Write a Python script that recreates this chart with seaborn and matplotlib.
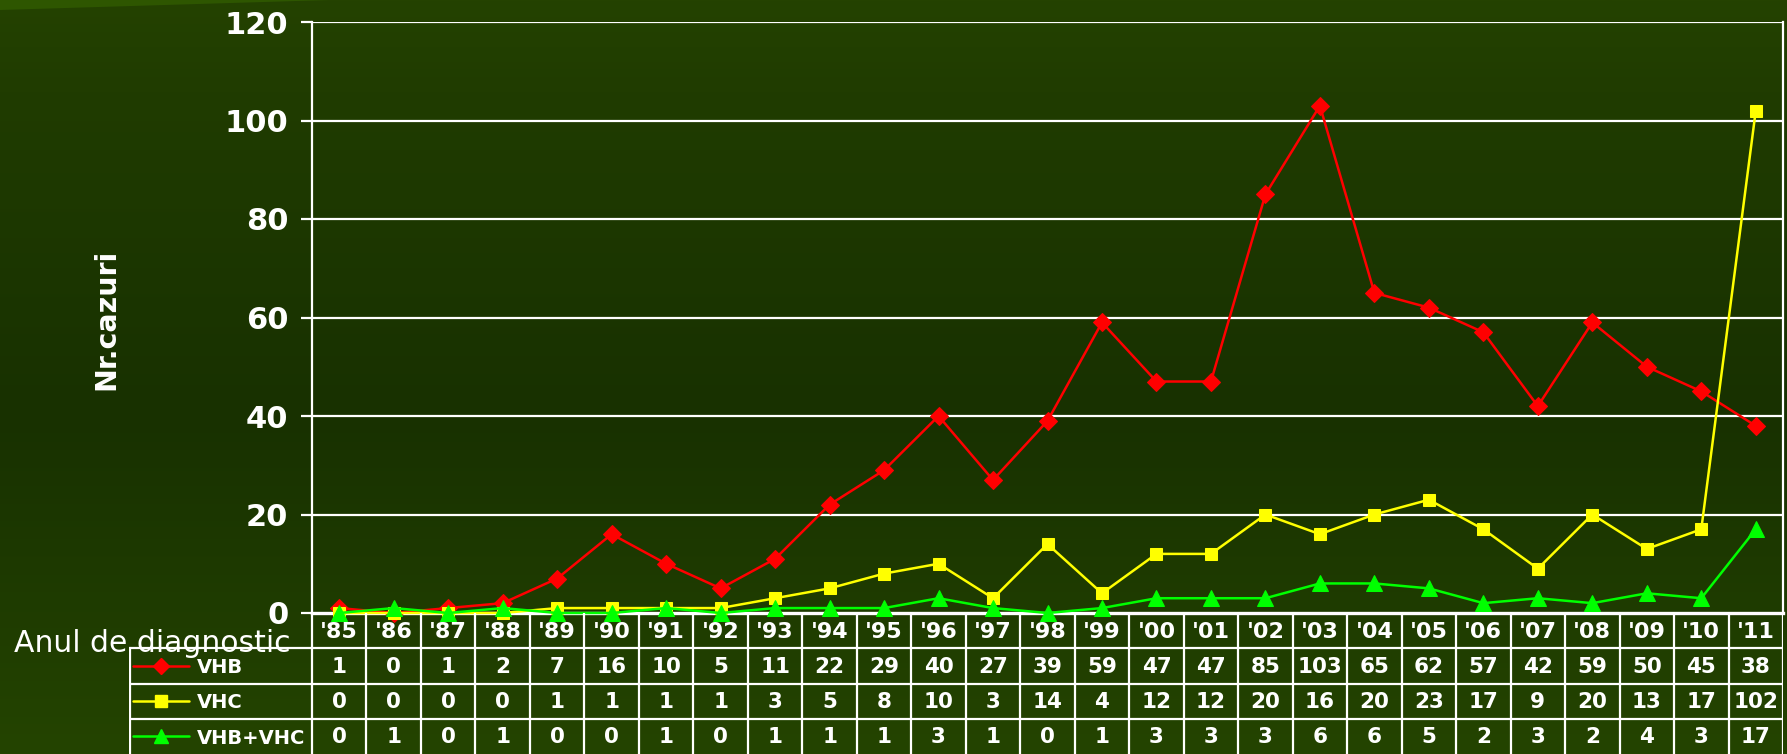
import numpy as np
import pandas as pd
import matplotlib
matplotlib.use("Agg")
import matplotlib.pyplot as plt
from matplotlib.colors import LinearSegmentedColormap
from matplotlib.lines import Line2D
from matplotlib.patches import Polygon
import seaborn as sns

# ---- data ----
years = ["'85", "'86", "'87", "'88", "'89", "'90", "'91", "'92", "'93", "'94",
         "'95", "'96", "'97", "'98", "'99", "'00", "'01", "'02", "'03", "'04",
         "'05", "'06", "'07", "'08", "'09", "'10", "'11"]
vhb = [1, 0, 1, 2, 7, 16, 10, 5, 11, 22, 29, 40, 27, 39, 59, 47, 47, 85, 103, 65,
       62, 57, 42, 59, 50, 45, 38]
vhc = [0, 0, 0, 0, 1, 1, 1, 1, 3, 5, 8, 10, 3, 14, 4, 12, 12, 20, 16, 20,
       23, 17, 9, 20, 13, 17, 102]
vhb_vhc = [0, 1, 0, 1, 0, 0, 1, 0, 1, 1, 1, 3, 1, 0, 1, 3, 3, 3, 6, 6,
           5, 2, 3, 2, 4, 3, 17]
series_names = ["VHB", "VHC", "VHB+VHC"]
series_values = [vhb, vhc, vhb_vhc]
yticks = [0, 20, 40, 60, 80, 100, 120]
ylabel = "Nr.cazuri"
xlabel = "Anul de diagnostic"

colors = {"VHB": "#ff0000", "VHC": "#ffff00", "VHB+VHC": "#00ff00"}
markers = {"VHB": "D", "VHC": "s", "VHB+VHC": "^"}
msizes = {"VHB": 9, "VHC": 9, "VHB+VHC": 11}

rows = []
for name, vals in zip(series_names, series_values):
    for i, (yr, v) in enumerate(zip(years, vals)):
        rows.append({"pos": i, "year": yr, "series": name, "value": v})
df = pd.DataFrame(rows)

sns.set_style("white")
plt.rcParams["font.family"] = ["DejaVu Sans"]

# ---- figure ----
W, H = 1787, 754
fig = plt.figure(figsize=(W / 100, H / 100), dpi=100)

# background gradient
bg = fig.add_axes([0, 0, 1, 1], zorder=-10)
cmap = LinearSegmentedColormap.from_list(
    "bg", [(0.0, "#244200"), (0.12, "#203c00"), (0.55, "#183100"), (1.0, "#244400")])
grad = np.linspace(0, 1, 256).reshape(-1, 1)
bg.imshow(grad, aspect="auto", cmap=cmap, extent=[0, 1, 0, 1], origin="upper")
bg.add_patch(Polygon([[0, 1], [330 / W, 1], [0, 1 - 10 / H]], closed=True,
                     color="#2e5600", lw=0))
bg.set_xlim(0, 1)
bg.set_ylim(0, 1)
bg.axis("off")

def fx(px):
    return px / W

def fy(py):
    return (H - py) / H

left, right, top, zero = 312, 1783, 22, 613
ax = fig.add_axes([fx(left), fy(zero), fx(right - left), (zero - top) / H])
ax.patch.set_alpha(0)

for name in series_names:
    sub = df[df["series"] == name]
    sns.lineplot(data=sub, x="pos", y="value", ax=ax, color=colors[name],
                 marker=markers[name], markersize=msizes[name],
                 markeredgecolor=colors[name], linewidth=1.8, legend=False,
                 clip_on=False, zorder=3)

ax.set_xlim(-0.5, len(years) - 0.5)
ax.set_ylim(0, 120)
ax.set_yticks(yticks)
ax.set_yticklabels([str(t) for t in yticks])
ax.set_xticks([])
ax.set_xlabel("")
ax.set_ylabel("")
ax.grid(False)
for t in yticks[1:]:
    ax.axhline(t, color="white", lw=1.6, zorder=1)
for s in ["left", "right"]:
    ax.spines[s].set_visible(True)
    ax.spines[s].set_color("white")
    ax.spines[s].set_linewidth(1.6)
ax.spines["top"].set_visible(False)
ax.spines["bottom"].set_visible(True)
ax.spines["bottom"].set_color("white")
ax.spines["bottom"].set_linewidth(2.4)
ax.tick_params(axis="y", colors="white", left=True, length=8, width=1.6,
               pad=9, labelsize=22)
for lab in ax.get_yticklabels():
    lab.set_fontweight("bold")
    lab.set_color("white")

fig.text(fx(106), fy(319), ylabel, rotation=90, color="white",
         fontsize=20.5, fontweight="bold", ha="center", va="center")
fig.text(fx(14), fy(652), xlabel, color="white", fontsize=21.5,
         ha="left", va="baseline")

# ---- data table ----
tleft = 129
unit = (right - left) / len(years)
xl = -0.5 - (left - tleft) / unit
tax = fig.add_axes([fx(tleft), 0, fx(right - tleft), (H - zero) / H])
tax.patch.set_alpha(0)
tax.set_xlim(xl, len(years) - 0.5)
tax.set_ylim(4, 0)
tax.axis("off")

lw = 1.6
for k in range(len(years) + 1):
    tax.plot([k - 0.5, k - 0.5], [0, 4], color="white", lw=lw,
             solid_capstyle="butt")
tax.plot([xl + 0.02, xl + 0.02], [1, 4], color="white", lw=lw)
for r in [1, 2, 3]:
    tax.plot([xl, len(years) - 0.5], [r, r], color="white", lw=lw)

for i, yr in enumerate(years):
    tax.text(i, 0.55, yr, color="white", fontsize=16, fontweight="bold",
             ha="center", va="center")
for r, (name, vals) in enumerate(zip(series_names, series_values), start=1):
    for i, v in enumerate(vals):
        tax.text(i, r + 0.52, str(v), color="white", fontsize=15.5,
                 fontweight="bold", ha="center", va="center")
    x0 = xl + (133 - tleft) / unit
    x1 = xl + (189 - tleft) / unit
    tax.add_line(Line2D([x0, x1], [r + 0.5, r + 0.5], color=colors[name],
                        lw=1.8))
    tax.add_line(Line2D([(x0 + x1) / 2], [r + 0.5], color=colors[name],
                        marker=markers[name], markersize=msizes[name] - 1,
                        markeredgecolor=colors[name], lw=0))
    tax.text(xl + (197 - tleft) / unit, r + 0.55, name, color="white",
             fontsize=14, fontweight="bold", ha="left", va="center")

fig.savefig("out.png", dpi=100)
